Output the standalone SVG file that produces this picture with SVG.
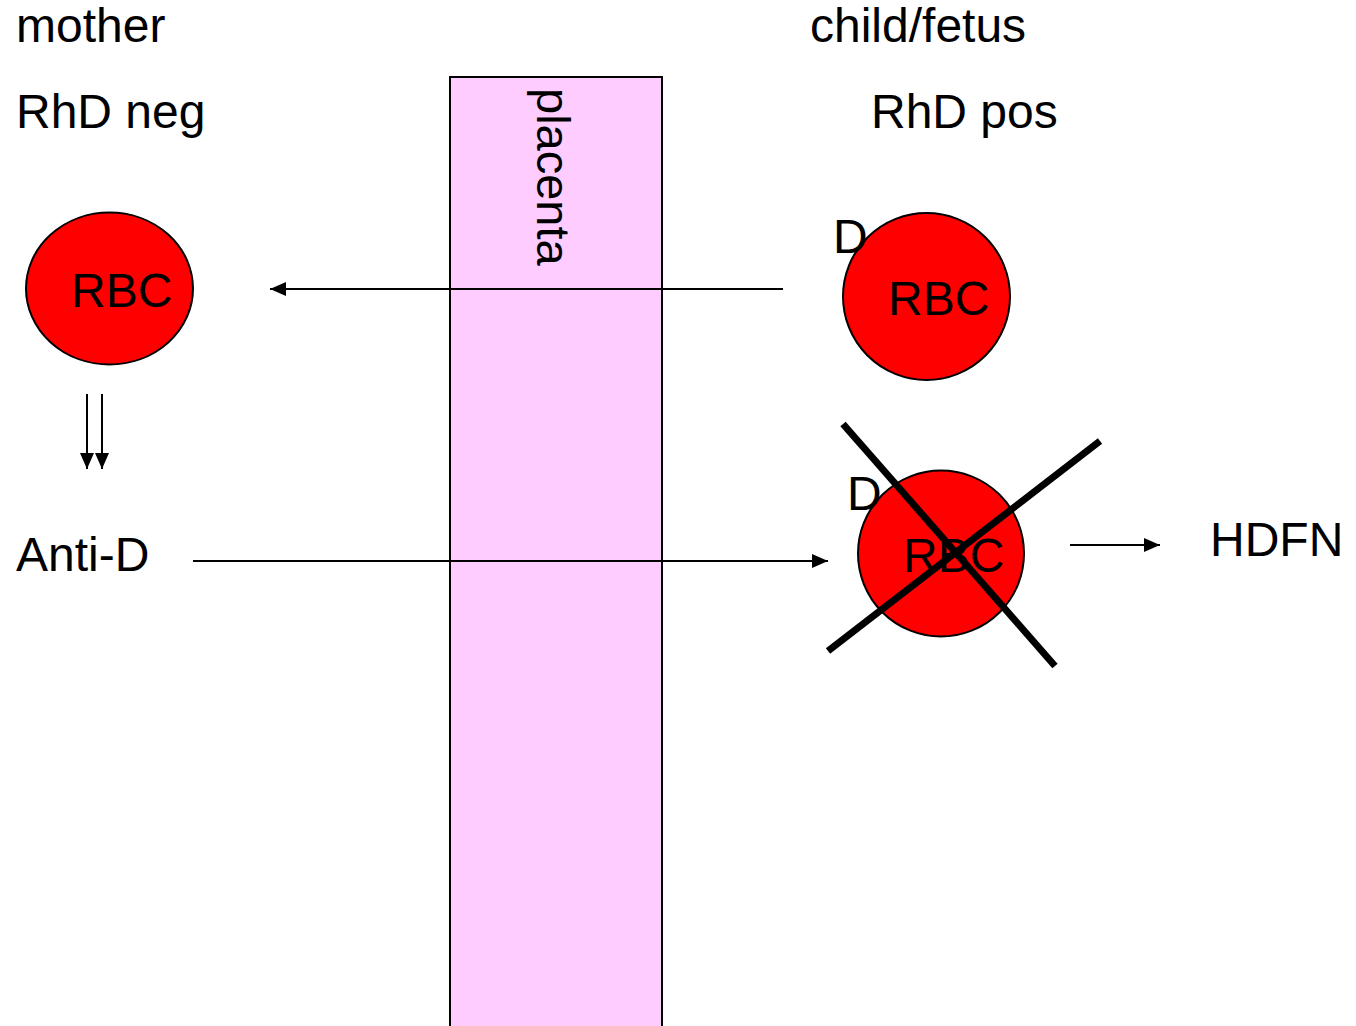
<svg xmlns="http://www.w3.org/2000/svg" width="1356" height="1026" viewBox="0 0 1356 1026">
<style>
text{font-family:"Liberation Sans",Arial,sans-serif;font-size:48px;fill:#000}
.cell{fill:#FF0000;stroke:#000;stroke-width:2}
.conn{stroke:#000;stroke-width:2;fill:none}
.cross{stroke:#000;stroke-width:7;stroke-linecap:butt}
</style>
<defs>
<marker id="ah" markerUnits="userSpaceOnUse" markerWidth="16" markerHeight="16" viewBox="0 0 16 16" refX="16" refY="8" orient="auto">
<path d="M0,1 L16,8 L0,15 Z" fill="#000"/>
</marker>
</defs>
<rect width="1356" height="1026" fill="#fff"/>
<g id="placenta">
<rect x="450" y="77" width="212" height="960" fill="#FFCCFF" stroke="#000" stroke-width="2"/>
<text transform="translate(537,88) rotate(90)" style="font-size:47px">placenta</text>
</g>
<g id="labels">
<text x="16" y="42">mother</text>
<text x="16" y="128">RhD neg</text>
<text x="810" y="42">child/fetus</text>
<text x="871" y="128">RhD pos</text>
</g>
<g id="mother-rbc">
<ellipse class="cell" cx="109.5" cy="288.5" rx="83.5" ry="76"/>
<text x="71" y="307">RBC</text>
</g>
<g id="anti-d">
<text x="16" y="571">Anti-D</text>
</g>
<g id="fetus-rbc">
<circle class="cell" cx="926.5" cy="296.5" r="83.5"/>
<text x="888" y="315">RBC</text>
<text x="833" y="253">D</text>
</g>
<g id="fetus-rbc-destroyed">
<circle class="cell" cx="941" cy="553.5" r="83"/>
<text x="903" y="572">RBC</text>
<text x="847" y="510">D</text>
<line class="cross" x1="843" y1="424" x2="1055" y2="666"/>
<line class="cross" x1="828" y1="651" x2="1100" y2="441"/>
</g>
<g id="hdfn">
<text x="1210" y="556">HDFN</text>
</g>
<g id="connectors">
<line class="conn" x1="783" y1="289" x2="270" y2="289" marker-end="url(#ah)"/>
<line class="conn" x1="87" y1="394" x2="87" y2="469" marker-end="url(#ah)"/>
<line class="conn" x1="102" y1="394" x2="102" y2="469" marker-end="url(#ah)"/>
<line class="conn" x1="193" y1="561" x2="828" y2="561" marker-end="url(#ah)"/>
<line class="conn" x1="1070" y1="545" x2="1160" y2="545" marker-end="url(#ah)"/>
</g>
</svg>
